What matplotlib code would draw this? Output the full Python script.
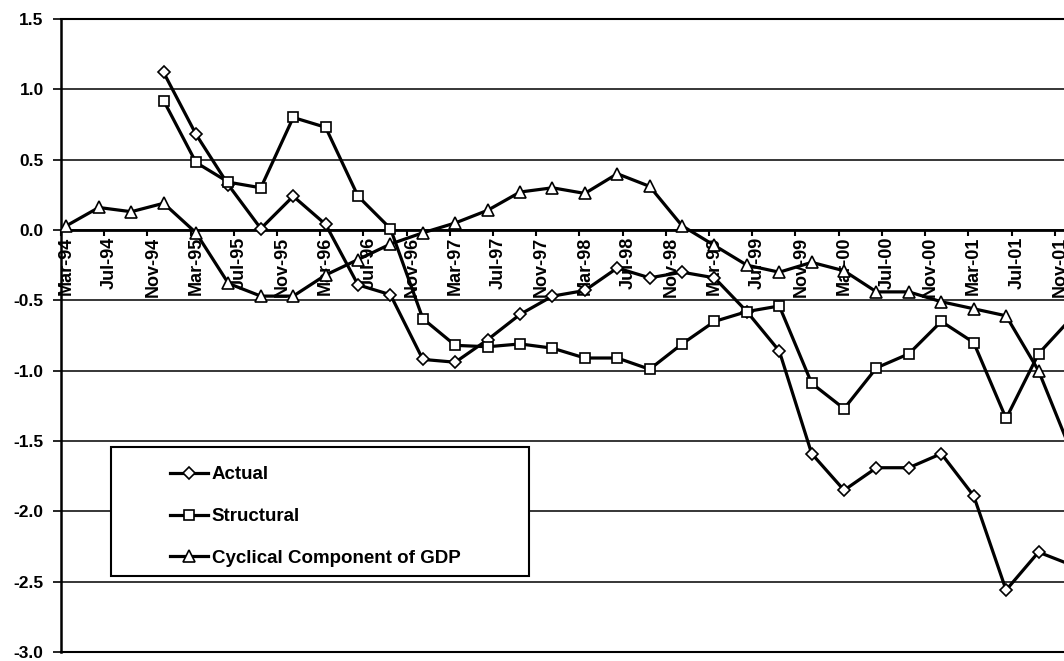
import numpy as np
import matplotlib
matplotlib.use("Agg")
import matplotlib.pyplot as plt
from matplotlib.patches import Rectangle

plt.rcParams['font.family'] = ['Liberation Sans', 'DejaVu Sans']
plt.rcParams['font.weight'] = 'bold'
plt.rcParams['axes.unicode_minus'] = False

# quarterly observations, Mar-94 .. Dec-01
quarters = ["Mar-94", "Jun-94", "Sep-94", "Dec-94",
            "Mar-95", "Jun-95", "Sep-95", "Dec-95",
            "Mar-96", "Jun-96", "Sep-96", "Dec-96",
            "Mar-97", "Jun-97", "Sep-97", "Dec-97",
            "Mar-98", "Jun-98", "Sep-98", "Dec-98",
            "Mar-99", "Jun-99", "Sep-99", "Dec-99",
            "Mar-00", "Jun-00", "Sep-00", "Dec-00",
            "Mar-01", "Jun-01", "Sep-01", "Dec-01"]

actual = [np.nan, np.nan, np.nan, 1.12,
          0.68, 0.32, 0.01, 0.24,
          0.04, -0.39, -0.46, -0.92,
          -0.94, -0.78, -0.60, -0.47,
          -0.43, -0.27, -0.34, -0.30,
          -0.34, -0.58, -0.86, -1.59,
          -1.85, -1.69, -1.69, -1.59,
          -1.89, -2.56, -2.29, -2.38]

structural = [np.nan, np.nan, np.nan, 0.92,
              0.48, 0.34, 0.30, 0.80,
              0.73, 0.24, 0.01, -0.63,
              -0.82, -0.83, -0.81, -0.84,
              -0.91, -0.91, -0.99, -0.81,
              -0.65, -0.58, -0.54, -1.09,
              -1.27, -0.98, -0.88, -0.65,
              -0.80, -1.34, -0.88, -0.63]

cyclical = [0.03, 0.16, 0.13, 0.19,
            -0.02, -0.38, -0.47, -0.47,
            -0.32, -0.21, -0.10, -0.02,
            0.05, 0.14, 0.27, 0.30,
            0.26, 0.40, 0.31, 0.03,
            -0.11, -0.25, -0.30, -0.23,
            -0.29, -0.44, -0.44, -0.51,
            -0.56, -0.61, -1.00, -1.57]

# category labels every 4 months on the date axis
tick_labels = ["Mar-94", "Jul-94", "Nov-94", "Mar-95", "Jul-95", "Nov-95",
               "Mar-96", "Jul-96", "Nov-96", "Mar-97", "Jul-97", "Nov-97",
               "Mar-98", "Jul-98", "Nov-98", "Mar-99", "Jul-99", "Nov-99",
               "Mar-00", "Jul-00", "Nov-00", "Mar-01", "Jul-01", "Nov-01"]

y_ticks = [-3.0, -2.5, -2.0, -1.5, -1.0, -0.5, 0.0, 0.5, 1.0, 1.5]

# months since Mar-94
x = np.arange(len(quarters)) * 3
tick_pos = np.arange(len(tick_labels)) * 4

fig = plt.figure(figsize=(10.64, 6.61), dpi=100)
ax = fig.add_axes([61 / 1064, 9 / 661, 1003 / 1064, 633 / 661])

line_kw = dict(color='black', lw=2.3, markerfacecolor='white',
               markeredgecolor='black', markeredgewidth=1.2, zorder=3)
ax.plot(x, actual, marker='D', markersize=6.5, label='Actual', **line_kw)
ax.plot(x, structural, marker='s', markersize=7, label='Structural', **line_kw)
ax.plot(x, cyclical, marker='^', markersize=8, label='Cyclical Component of GDP', **line_kw)

ax.set_xlim(-0.5, 92.36)
ax.set_ylim(-3.0, 1.5)

# y axis
ax.set_yticks(y_ticks)
ax.set_yticklabels(["%.1f" % v for v in y_ticks], fontsize=12.5, fontweight='bold')
ax.tick_params(axis='y', direction='out', length=6, width=1.2, pad=6.5)
ax.yaxis.grid(True, color='black', lw=1.1)
ax.set_axisbelow(True)
ax.axhline(-3.0, color='black', lw=1.5, clip_on=False, zorder=1)

# x axis sits on zero
ax.spines['bottom'].set_position(('data', 0))
ax.spines['bottom'].set_linewidth(2)
ax.spines['left'].set_linewidth(1.8)
ax.spines['top'].set_linewidth(1.5)
ax.spines['right'].set_visible(False)
ax.set_xticks(tick_pos)
ax.set_xticklabels(tick_labels, rotation=90, fontsize=13, fontweight='bold',
                   ha='center', va='top')
ax.set_xticks(tick_pos - 0.5, minor=True)
ax.tick_params(axis='x', which='major', length=0, pad=5)
ax.tick_params(axis='x', which='minor', direction='out', length=4, width=1.5)

# legend box
ax.add_patch(Rectangle((0.0499, 0.1203), 0.4165, 0.203, transform=ax.transAxes,
                       facecolor='white', edgecolor='black', lw=1.5, zorder=4))
leg = ax.legend(loc='upper left', bbox_to_anchor=(0.109, 0.2937), frameon=False,
                fontsize=13.5, handlelength=2.0, handletextpad=0.2,
                labelspacing=1.32, borderpad=0, borderaxespad=0)
leg.set_zorder(5)
for t in leg.get_texts():
    t.set_fontweight('bold')

fig.savefig("out.png", dpi=100)
